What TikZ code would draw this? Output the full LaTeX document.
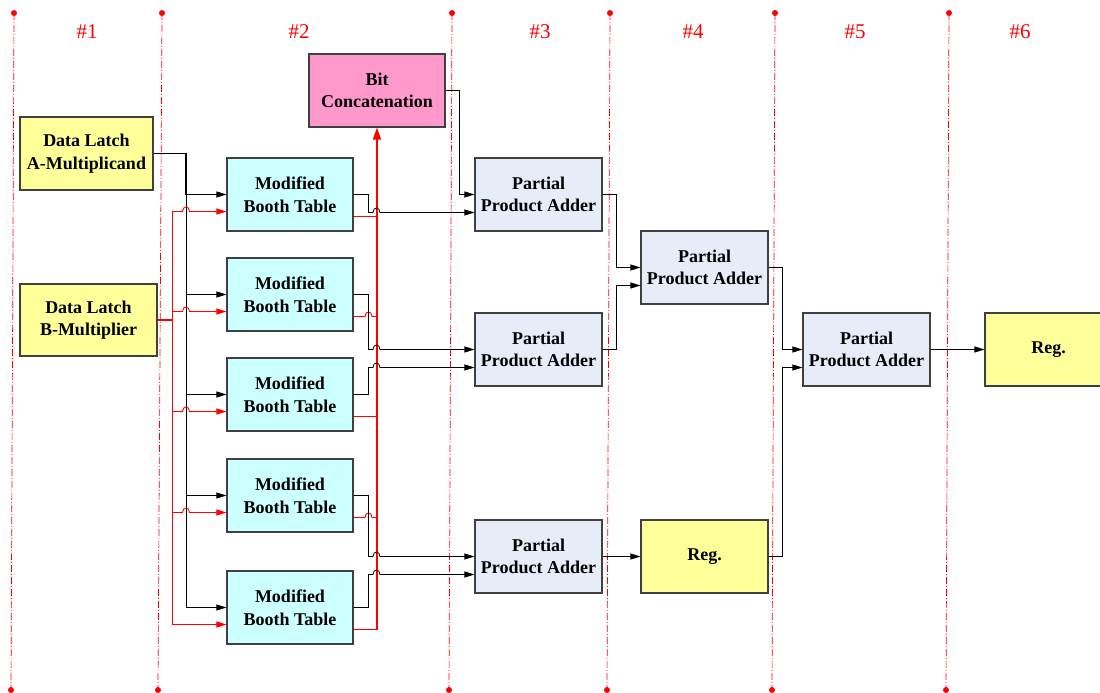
\documentclass[tikz,border=0pt]{standalone}
\usepackage{fontspec}
\setmainfont{Liberation Serif}
\usepackage{xcolor}
\usetikzlibrary{arrows.meta,positioning,calc}

\definecolor{latchyellow}{HTML}{FFFF99}
\definecolor{boothcyan}{HTML}{CCFFFF}
\definecolor{concatpink}{HTML}{FF99CC}
\definecolor{adderblue}{HTML}{E6ECF8}
\definecolor{boxline}{HTML}{404040}

\tikzset{
  blk/.style={draw=boxline, line width=1.1pt, minimum width=127pt, minimum height=73pt,
    align=center, inner sep=1pt, font=\bfseries\fontsize{18}{22.5}\selectfont},
  wire/.style={black, line width=0.8pt},
  rwire/.style={red, line width=0.9pt},
  arr/.style={-{Triangle[length=10pt,width=6pt]}},
  guide/.style={red, line width=0.7pt, dash pattern=on 7pt off 2pt on 1pt off 2pt},
}
% little bridge where a wire crosses another one
\newcommand{\hop}{.. controls +(0,-6) and +(0,-6) .. ++(7,0)}

\begin{document}
\begin{tikzpicture}[x=1pt,y=-1pt]
    \useasboundingbox (0,0) rectangle (1100,693);
    % pipeline stage borders
    \foreach \xt/\xb in {14/11, 162/158, 452/449, 610/607, 775/772, 949/946} {
        \draw[guide] (\xt,13) -- (\xb,690);
        \fill[red] (\xt,13) circle[radius=3pt];
        \fill[red] (\xb,690) circle[radius=3pt];
    }
    \foreach \x/\n in {87/1, 299/2, 540/3, 693/4, 855/5, 1020/6}
        \node[red, font=\fontsize{21}{21}\selectfont] (stage\n) at (\x,32) {\#\n};
    % blocks
    \node[blk, fill=latchyellow, minimum width=133pt] (latchA) at (86.5,153.5) {Data Latch\\A-Multiplicand};
    \node[blk, fill=latchyellow, minimum width=137pt, minimum height=72pt] (latchB) at (88.5,320) {Data Latch\\B-Multiplier};
    \node[blk, fill=concatpink, minimum width=136pt] (concat) at (377,90.5) {Bit\\Concatenation};
    \foreach \i/\y in {1/194.5, 2/294.5, 3/394.5, 4/495.5, 5/607.5}
        \node[blk, fill=boothcyan, minimum width=126pt] (booth\i) at (290,\y) {Modified\\Booth Table};
    \node[blk, fill=adderblue] (ppa1) at (538.5,194.5) {Partial\\Product Adder};
    \node[blk, fill=adderblue] (ppa2) at (538.5,349.5) {Partial\\Product Adder};
    \node[blk, fill=adderblue] (ppa3) at (538.5,556.5) {Partial\\Product Adder};
    \node[blk, fill=adderblue] (ppa4) at (704.5,267.5) {Partial\\Product Adder};
    \node[blk, fill=latchyellow] (reg4) at (704.5,556.5) {Reg.};
    \node[blk, fill=adderblue] (ppa5) at (866.5,349.5) {Partial\\Product Adder};
    \node[blk, fill=latchyellow] (reg6) at (1048.5,349.5) {Reg.};
    % multiplicand bus
    \coordinate (abus) at (186,153.5);
    \draw[wire, line width=1.4pt] (latchA.east) -- (abus) -- (abus |- booth1.west);
    \draw[wire] (abus |- booth1.west) -- (abus |- booth5.west);
    \foreach \i in {1,...,5}
        \draw[wire, arr] (booth\i.west -| abus) -- (booth\i.west);
    % multiplier bus
    \coordinate (bbus) at (172,320);
    \draw[rwire, line width=1.6pt] (latchB.east) -- (bbus);
    \draw[rwire] ($(booth1.west -| bbus)+(0,17)$) -- ($(booth5.west -| bbus)+(0,17)$);
    \foreach \i in {1,...,4}
        \draw[rwire, arr] ($(booth\i.west -| bbus)+(0,17)$) -- ++(10.5,0) \hop -- ([yshift=-17pt]booth\i.west);
    \draw[rwire, arr] ($(booth5.west -| bbus)+(0,17)$) -- ([yshift=-17pt]booth5.west);
    % booth tables -> bit concatenation
    \foreach \i in {1,3,5}
        \draw[rwire] ([yshift=-22pt]booth\i.east) -- ([yshift=-22pt]booth\i.east -| concat.south);
    \foreach \i in {2,4}
        \draw[rwire] ([yshift=-22pt]booth\i.east) -- ++(11.5,0) \hop -- ([yshift=-22pt]booth\i.east -| concat.south);
    \draw[rwire, line width=1.8pt, -{Triangle[length=12pt,width=8pt]}] ([yshift=-22pt]booth5.east -| concat.south) -- (concat.south);
    % booth tables -> first adders
    \foreach \i/\t/\s in {1/ppa1/18, 2/ppa2/0, 3/ppa2/18, 4/ppa3/0, 5/ppa3/18}
        \draw[wire, arr] (booth\i.east) -- ++(15,0) |- ($(\t.west)+(-101.5,\s)$) \hop -- ($(\t.west)+(0,\s)$);
    \draw[wire, arr] (concat.east) -- ++(14,0) |- (ppa1.west);
    % adder tree
    \draw[wire, arr] (ppa1.east) -- ++(14,0) |- (ppa4.west);
    \draw[wire, arr] (ppa2.east) -- ++(14,0) |- ([yshift=-18pt]ppa4.west);
    \draw[wire, arr] (ppa3) -- (reg4);
    \draw[wire, arr] (ppa4.east) -- ++(14,0) |- (ppa5.west);
    \draw[wire, arr] (reg4.east) -- ++(14,0) |- ([yshift=-18pt]ppa5.west);
    \draw[wire, arr] (ppa5) -- (reg6);
\end{tikzpicture}
\end{document}
